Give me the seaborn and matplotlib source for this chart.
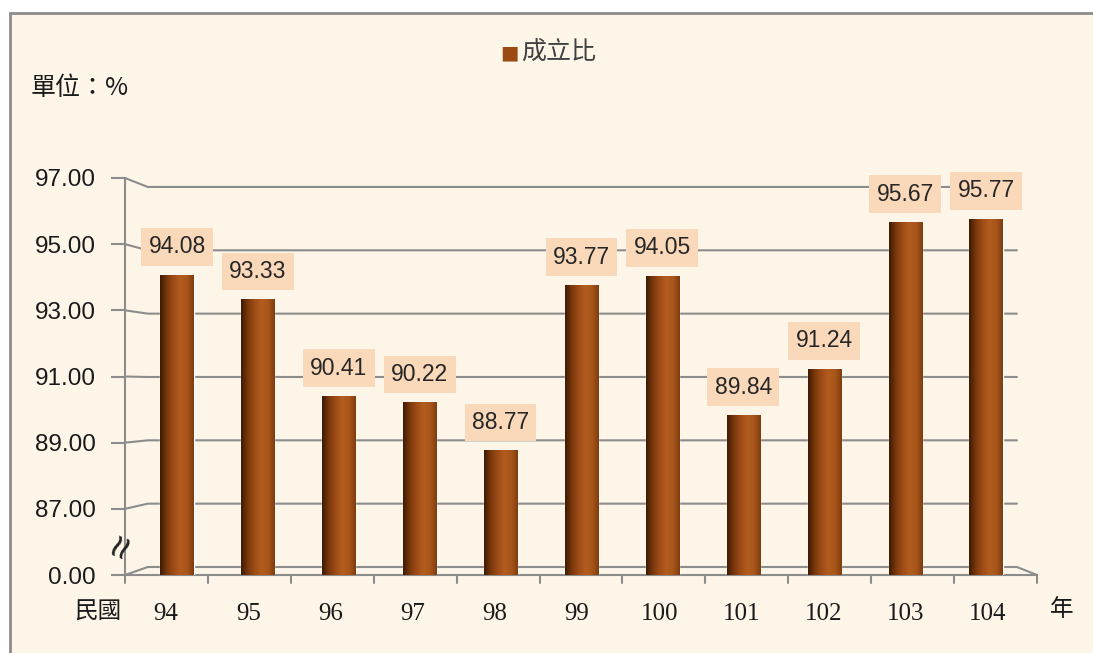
import numpy as np
import pandas as pd
import matplotlib
matplotlib.use("Agg")
import matplotlib.pyplot as plt
from matplotlib.colors import LinearSegmentedColormap
from matplotlib.patches import Rectangle
import seaborn as sns

# data
years = ["94", "95", "96", "97", "98", "99", "100", "101", "102", "103", "104"]
ratio = [94.08, 93.33, 90.41, 90.22, 88.77, 93.77, 94.05, 89.84, 91.24, 95.67, 95.77]
tick_vals = [85, 87, 89, 91, 93, 95, 97]
tick_text = ["0.00", "87.00", "89.00", "91.00", "93.00", "95.00", "97.00"]

base = 85  # broken axis: the "0.00" tick sits at 85
df = pd.DataFrame({"year": years, "ratio": ratio})
df["h"] = df["ratio"] - base

sns.set_style("white")
plt.rcParams["font.family"] = ["Noto Sans CJK TC", "DejaVu Sans"]

W, H = 1093, 653
bg = "#FDF5E8"
grid_c = "#8C8C8C"
fig = plt.figure(figsize=(W / 100, H / 100), dpi=100)
fig.patch.set_facecolor("white")
fig.patches.append(Rectangle((10 / W, -0.05), 1.1, (H - 13) / H + 0.05,
                             transform=fig.transFigure, facecolor=bg,
                             edgecolor=grid_c, linewidth=2, zorder=-10))

# plot area: front plane from x=125 to 1037 px, y=178 to 575 px
ax = fig.add_axes([125 / W, (H - 575) / H, (1037 - 125) / W, (575 - 178) / H])
ax.set_facecolor("none")

sns.barplot(data=df, x="year", y="h", bottom=base, color="#9A4A12", width=0.41,
            ax=ax, zorder=3)

# cylinder-like shading on each bar
cmap = LinearSegmentedColormap.from_list(
    "cyl", ["#3E1A04", "#7A380C", "#9E4C16", "#B35C1F", "#A9561A", "#7E3C0E"])
grad = np.linspace(0, 1, 256).reshape(1, -1)
for p in ax.patches:
    x0, y0 = p.get_x(), p.get_y()
    w, h = p.get_width(), p.get_height()
    im = ax.imshow(grad, cmap=cmap, aspect="auto", extent=[x0, x0 + w, y0, y0 + h],
                   zorder=4)
    im.set_clip_path(p)

# bar i centre at 177 + 80.9*i px (3D perspective shifts bars right of labels)
px0, step = 177, 80.9
ax.set_xlim((125 - px0) / step, (1037 - px0) / step)
ax.set_ylim(base, 97)
ax.set_yticks(tick_vals)
ax.set_yticklabels(tick_text, fontsize=17.5, color="#1A1A1A", family="Liberation Sans")
label_pos = [(166 + 82.2 * i - px0) / step for i in range(len(years))]
ax.set_xticks(label_pos)
ax.set_xticklabels(years, fontsize=18, color="#1A1A1A", family="Liberation Serif")
ax.tick_params(axis="y", length=10, width=1.5, color=grid_c, pad=11, left=True)
ax.tick_params(axis="x", length=0, pad=20)

# back-wall gridlines with perspective connectors to the front ticks
for v in tick_vals:
    f = (v - base) / 12
    b = (8 + (v - base) * 31.67) / 397
    if v == base:
        ax.plot([0.025, 0.978, 1.0], [b, b, 0], color=grid_c, lw=1.5,
                transform=ax.transAxes, clip_on=False, zorder=1)
    else:
        ax.plot([0, 0.025, 0.978], [f, b, b], color=grid_c, lw=1.5,
                transform=ax.transAxes, clip_on=False, zorder=1)
ax.plot([0, 0.025], [0, 8 / 397], color=grid_c, lw=1.5, transform=ax.transAxes,
        clip_on=False, zorder=1)
for k in range(len(years) + 1):
    xa = 82.9 * k / 912
    ax.plot([xa, xa], [0, -8 / 397], color=grid_c, lw=1.5, transform=ax.transAxes,
            clip_on=False)
for s in ["top", "right"]:
    ax.spines[s].set_visible(False)
for s in ["left", "bottom"]:
    ax.spines[s].set_color(grid_c)
    ax.spines[s].set_linewidth(1.5)
ax.set_xlabel("")
ax.set_ylabel("")

# value labels in peach boxes
for i, v in enumerate(ratio):
    ax.annotate(f"{v:.2f}", (i, v), xytext=(0, 20), textcoords="offset points",
                ha="center", va="center", fontsize=16.5, color="#262626",
                family="Liberation Sans",
                bbox=dict(boxstyle="square,pad=0.32", fc="#FAD8BA", ec="none"),
                zorder=6)

# axis break mark
ax.text(-0.002, 0.072, "≈", rotation=68, fontsize=30, ha="center", va="center",
        color="#222222", transform=ax.transAxes, clip_on=False,
        family="Liberation Sans", zorder=7)

# legend and side texts
fig.text(509.5 / W, 1 - 53 / H, "■", fontsize=14, color="#9A4A12",
         ha="center", va="center", family="DejaVu Sans")
fig.text(521 / W, 1 - 52 / H, "成立比", fontsize=18, color="#404040",
         ha="left", va="center")
fig.text(31 / W, 1 - 88 / H, "單位：%", fontsize=18, color="#1A1A1A",
         ha="left", va="center")
fig.text(98 / W, 1 - 612 / H, "民國", fontsize=17, color="#1A1A1A",
         ha="center", va="center")
fig.text(1062 / W, 1 - 610 / H, "年", fontsize=17, color="#1A1A1A",
         ha="center", va="center")

fig.savefig("out.png", dpi=100, facecolor=fig.get_facecolor())
